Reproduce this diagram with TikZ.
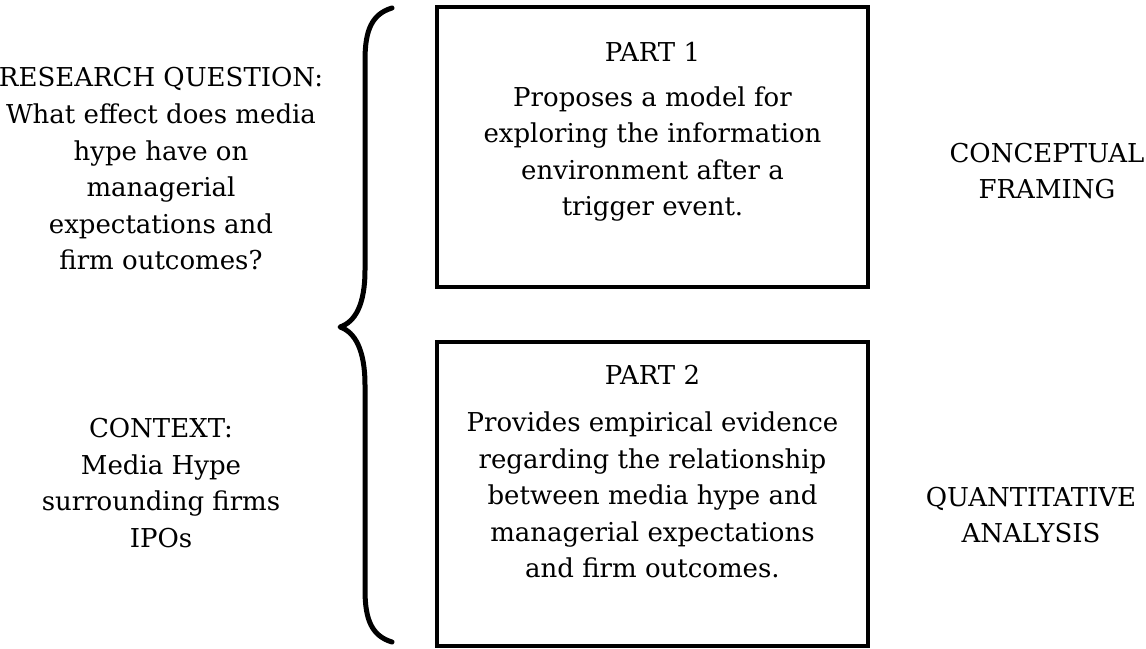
\documentclass[tikz,border=0pt]{standalone}
\usepackage{fontspec}
\setmainfont{DejaVu Serif}
\begin{document}
\begin{tikzpicture}[x=1pt,y=-1pt,
  txt/.style={align=center,inner sep=0pt,font=\fontsize{26}{36.6}\selectfont},
  partbox/.style={draw,line width=4pt,inner sep=0pt,minimum width=431pt},
  brace/.style={line width=5pt,line cap=round,line join=round}]
\useasboundingbox (0,0) rectangle (1146,648);

% two framed parts
\node[partbox,minimum height=280pt] (box1) at (652.5,147) {};
\node[partbox,minimum height=304pt] (box2) at (652.5,494) {};

% texts inside the frames
\node[txt] (p1title) at (652.5,52) {PART 1};
\node[txt] (p1body) at (652.5,154) {Proposes a model for\\exploring the information\\environment after a\\trigger event.};
\node[txt] (p2title) at (652.5,375) {PART 2};
\node[txt] (p2body) at (652.5,495) {Provides empirical evidence\\regarding the relationship\\between media hype and\\managerial expectations\\and firm outcomes.};

% left side texts
\node[txt] (question) at (161,169) {RESEARCH QUESTION:\\What effect does media\\hype have on\\managerial\\expectations and\\firm outcomes?};
\node[txt] (context) at (161,483) {CONTEXT:\\Media Hype\\surrounding firms\\IPOs};

% right side texts
\node[txt] (framing) at (1047,171) {CONCEPTUAL\\FRAMING};
\node[txt] (analysis) at (1031,515) {QUANTITATIVE\\ANALYSIS};

% curly brace spanning both parts
\coordinate (btop) at (392,8);
\coordinate (btip) at (340,327);
\coordinate (bbot) at (392,642);
\draw[brace] (btop) .. controls (372,14) and (365,30) .. (365,60)
  -- (365,270) .. controls (365,305) and (355,322) .. (btip)
  .. controls (355,332) and (365,350) .. (365,385)
  -- (365,590) .. controls (365,620) and (372,636) .. (bbot);
\end{tikzpicture}
\end{document}
